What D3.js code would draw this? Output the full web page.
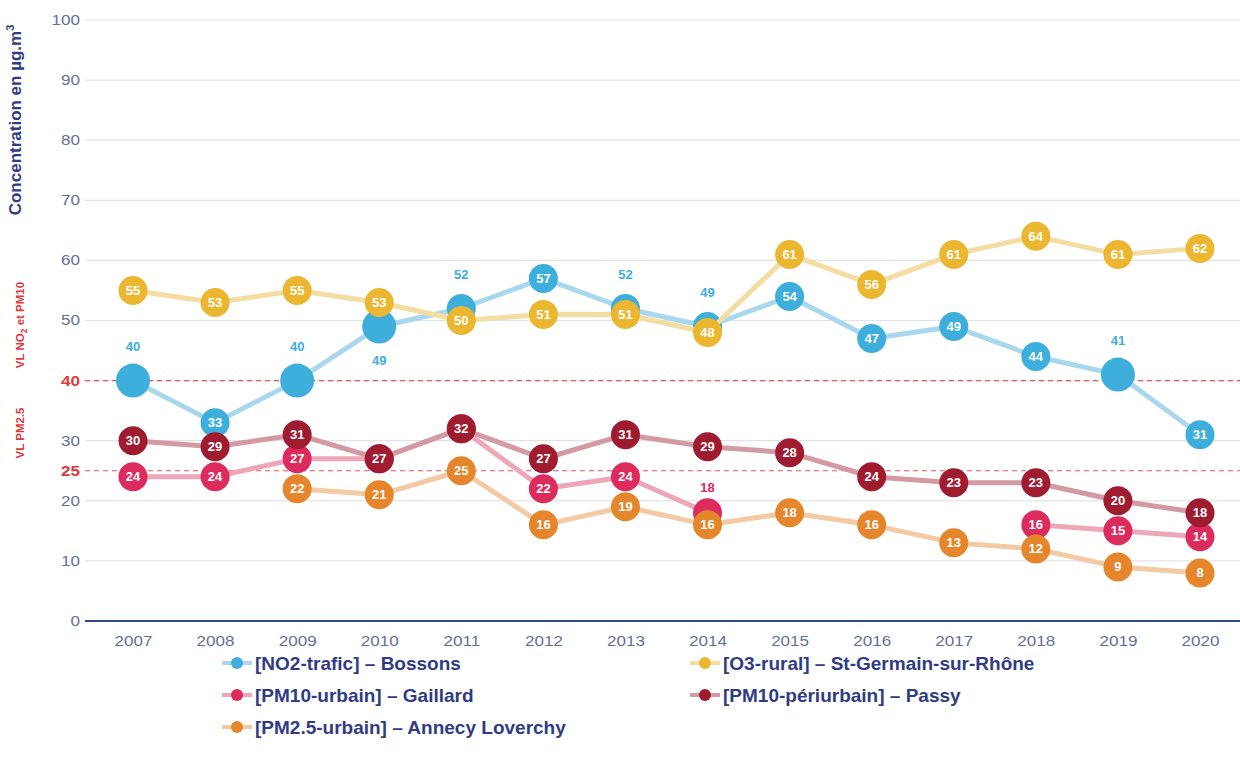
<!DOCTYPE html>
<html>
<head>
<meta charset="utf-8">
<script src="https://cdn.jsdelivr.net/npm/d3@7"></script>
<style>
  body { margin: 0; background: #fff; }
  svg { display: block; font-family: "Liberation Sans", Arial, sans-serif; }
</style>
</head>
<body>
<div id="chart"></div>
<script>
// Years on the x axis
const years = [2007, 2008, 2009, 2010, 2011, 2012, 2013, 2014, 2015, 2016, 2017, 2018, 2019, 2020];

// Series values (null = no measurement)
const no2Bossons = [40, 33, 40, 49, 52, 57, 52, 49, 54, 47, 49, 44, 41, 31];
const o3StGermain = [55, 53, 55, 53, 50, 51, 51, 48, 61, 56, 61, 64, 61, 62];
const pm10Gaillard = [24, 24, 27, 27, 32, 22, 24, 18, null, null, null, 16, 15, 14];
const pm10Passy = [30, 29, 31, 27, 32, 27, 31, 29, 28, 24, 23, 23, 20, 18];
const pm25Annecy = [null, null, 22, 21, 25, 16, 19, 16, 18, 16, 13, 12, 9, 8];

const yTicks = [0, 10, 20, 30, 40, 50, 60, 70, 80, 90, 100];
const limitValues = [40, 25];

// Points whose value is written outside the marker ("above" / "below")
const no2Outside = { 2007: 'above', 2009: 'above', 2010: 'below', 2011: 'above', 2013: 'above', 2014: 'above', 2019: 'above' };
const no2Big = [2007, 2009, 2010, 2019];
const gaillardOutside = { 2014: 'above' };

const series = [
  { name: '[NO2-trafic] – Bossons', values: no2Bossons, color: '#3eaedd', line: '#a9d8ee', outside: no2Outside, big: no2Big, off: 34 },
  { name: '[O3-rural] – St-Germain-sur-Rhône', values: o3StGermain, color: '#ecb730', line: '#f4dda3', outside: {}, big: [], off: 25 },
  { name: '[PM10-urbain] – Gaillard', values: pm10Gaillard, color: '#dc2b5c', line: '#eda7b8', outside: gaillardOutside, big: [], off: 25 },
  { name: '[PM10-périurbain] – Passy', values: pm10Passy, color: '#9f1b2f', line: '#d49aa4', outside: {}, big: [], off: 25 },
  { name: '[PM2.5-urbain] – Annecy Loverchy', values: pm25Annecy, color: '#e5862c', line: '#f3caa3', outside: {}, big: [], off: 25 }
];

const width = 1240, height = 767;
const svg = d3.select('#chart').append('svg').attr('width', width).attr('height', height);

const xScale = d3.scaleLinear().domain([2007, 2020]).range([133, 1200]);
const yScale = d3.scaleLinear().domain([0, 100]).range([621, 20]);
const left = 85, right = 1240;

// Gridlines
svg.append('g').selectAll('line')
  .data(yTicks.filter(d => d > 0))
  .join('line')
  .attr('x1', left).attr('x2', right)
  .attr('y1', d => yScale(d)).attr('y2', d => yScale(d))
  .attr('stroke', '#e3e3e6').attr('stroke-width', 1.2);

// Y axis labels
const yAxis = d3.axisLeft(yScale).tickValues(yTicks.concat([25])).tickSize(0).tickPadding(0);
const yAxisGroup = svg.append('g').attr('transform', 'translate(80,0)').call(yAxis);
yAxisGroup.select('.domain').remove();
yAxisGroup.selectAll('text')
  .attr('font-size', 14)
  .attr('transform', 'scale(1.22,1)')
  .attr('font-family', '"Liberation Sans", Arial, sans-serif')
  .attr('fill', d => limitValues.includes(d) ? '#e0393b' : '#65709a')
  .attr('font-weight', d => limitValues.includes(d) ? 'bold' : 'normal');

// Limit value lines
svg.append('g').selectAll('line')
  .data(limitValues)
  .join('line')
  .attr('x1', left).attr('x2', right)
  .attr('y1', d => yScale(d)).attr('y2', d => yScale(d))
  .attr('stroke', '#dc5a55').attr('stroke-width', 1.2)
  .attr('stroke-dasharray', '5,4');

// X axis
svg.append('line')
  .attr('x1', left).attr('x2', right)
  .attr('y1', yScale(0)).attr('y2', yScale(0))
  .attr('stroke', '#34478f').attr('stroke-width', 2);

const xAxis = d3.axisBottom(xScale).tickValues(years).tickFormat(d3.format('d')).tickSize(0).tickPadding(0);
const xAxisGroup = svg.append('g').attr('transform', `translate(0, ${yScale(0) + 15})`).call(xAxis);
xAxisGroup.select('.domain').remove();
xAxisGroup.selectAll('text')
  .attr('font-size', 14)
  .attr('transform', 'scale(1.22,1)')
  .attr('font-family', '"Liberation Sans", Arial, sans-serif')
  .attr('fill', '#65709a');

// Axis titles
svg.append('text')
  .attr('transform', 'translate(21,120) rotate(-90)')
  .attr('text-anchor', 'middle')
  .attr('font-size', 17)
  .attr('font-weight', 'bold')
  .attr('fill', '#2f3c84')
  .html('Concentration en µg.m<tspan dy="-7" font-size="11">3</tspan>');

svg.append('text')
  .attr('transform', 'translate(24,325) rotate(-90)')
  .attr('text-anchor', 'middle')
  .attr('font-size', 11.5)
  .attr('font-weight', 'bold')
  .attr('fill', '#e0393b')
  .html('VL NO<tspan dy="3" font-size="8.5">2</tspan><tspan dy="-3"> et PM10</tspan>');

svg.append('text')
  .attr('transform', 'translate(24,433) rotate(-90)')
  .attr('text-anchor', 'middle')
  .attr('font-size', 11.5)
  .attr('font-weight', 'bold')
  .attr('fill', '#e0393b')
  .text('VL PM2.5');

// Series
const line = d3.line()
  .defined(d => d.v != null)
  .x(d => xScale(d.year))
  .y(d => yScale(d.v));

series.forEach(s => {
  const pts = years.map((year, i) => ({ year, v: s.values[i] }));
  const g = svg.append('g');

  g.append('path')
    .datum(pts)
    .attr('d', line)
    .attr('fill', 'none')
    .attr('stroke', s.line)
    .attr('stroke-width', 5)
    .attr('stroke-linejoin', 'round');

  const dots = g.selectAll('g.dot')
    .data(pts.filter(d => d.v != null))
    .join('g')
    .attr('class', 'dot')
    .attr('transform', d => `translate(${xScale(d.year)},${yScale(d.v)})`);

  dots.append('circle')
    .attr('r', d => s.big.includes(d.year) ? 17 : 14.5)
    .attr('fill', s.color);

  dots.append('text')
    .attr('text-anchor', 'middle')
    .attr('dy', d => {
      const pos = s.outside[d.year];
      if (pos === 'above') return -s.off + 4.5;
      if (pos === 'below') return s.off + 4.5;
      return 4.5;
    })
    .attr('font-size', 13)
    .attr('font-weight', 'bold')
    .attr('fill', d => s.outside[d.year] ? s.color : '#fff')
    .text(d => d.v);
});

// Legend
const legendPos = [
  { x: 222, y: 663 }, { x: 690, y: 663 },
  { x: 222, y: 695 }, { x: 690, y: 695 },
  { x: 222, y: 727 }
];

const legend = svg.append('g').selectAll('g')
  .data(series)
  .join('g')
  .attr('transform', (d, i) => `translate(${legendPos[i].x},${legendPos[i].y})`);

legend.append('line')
  .attr('x1', 0).attr('x2', 30)
  .attr('stroke', d => d.line).attr('stroke-width', 4);

legend.append('circle')
  .attr('cx', 15).attr('r', 6)
  .attr('fill', d => d.color);

legend.append('text')
  .attr('x', 33).attr('dy', 6.5)
  .attr('font-size', 19)
  .attr('font-weight', 'bold')
  .attr('fill', '#2f3c84')
  .text(d => d.name);
</script>
</body>
</html>
